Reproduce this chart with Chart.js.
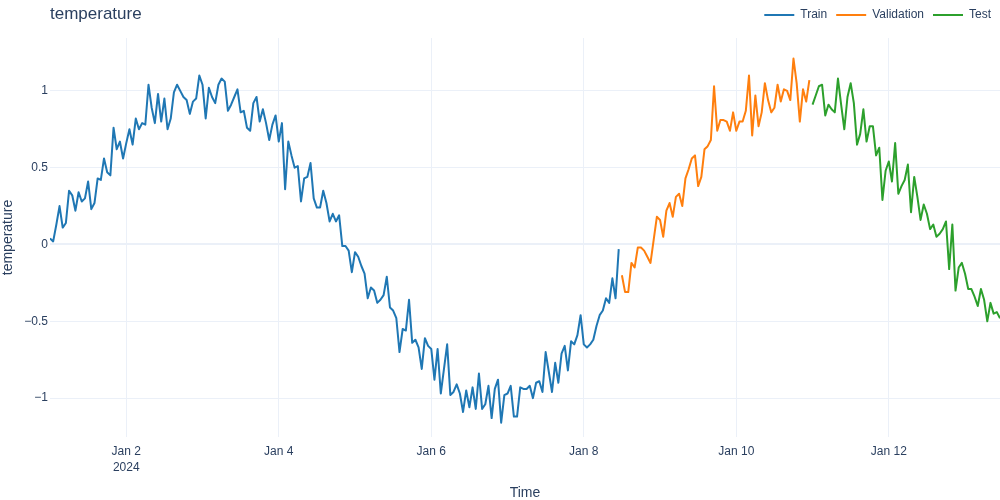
<!DOCTYPE html>
<html>
<head>
<meta charset="utf-8">
<title>temperature</title>
<script src="https://cdn.jsdelivr.net/npm/chart.js@4.4.1/dist/chart.umd.min.js"></script>
<style>
  html, body { margin: 0; padding: 0; background: #fff; }
  #wrap { width: 1000px; height: 500px; }
</style>
</head>
<body>
<div id="wrap"><canvas id="tempChart" width="1000" height="500"></canvas></div>
<script>
// hourly readings, hour 0 = Jan 1 2024 00:00
const trainStart = 0;
const validationStart = 180;
const testStart = 240;

const trainTemps = [
    0.04, 0.02, 0.13, 0.25, 0.11, 0.14, 0.35, 0.32, 0.22, 0.34,
    0.28, 0.30, 0.41, 0.23, 0.27, 0.43, 0.42, 0.56, 0.47, 0.45,
    0.76, 0.62, 0.67, 0.56, 0.66, 0.75, 0.65, 0.82, 0.75, 0.79,
    0.78, 1.04, 0.89, 0.79, 0.98, 0.80, 0.95, 0.75, 0.82, 0.99,
    1.04, 1.00, 0.96, 0.94, 0.85, 0.93, 0.95, 1.10, 1.04, 0.82,
    1.02, 0.96, 0.92, 1.04, 1.08, 1.06, 0.87, 0.91, 0.96, 1.01,
    0.86, 0.87, 0.76, 0.74, 0.92, 0.96, 0.80, 0.88, 0.79, 0.68,
    0.78, 0.84, 0.67, 0.79, 0.36, 0.67, 0.58, 0.50, 0.51, 0.28,
    0.43, 0.44, 0.53, 0.30, 0.24, 0.24, 0.35, 0.27, 0.15, 0.20,
    0.15, 0.19, -0.01, -0.01, -0.04, -0.18, -0.05, -0.08, -0.14, -0.19,
    -0.35, -0.28, -0.30, -0.38, -0.36, -0.33, -0.21, -0.41, -0.43, -0.48,
    -0.70, -0.55, -0.56, -0.36, -0.64, -0.62, -0.67, -0.81, -0.61, -0.66,
    -0.68, -0.88, -0.68, -0.97, -0.81, -0.65, -0.98, -0.96, -0.91, -0.97,
    -1.09, -0.95, -1.06, -0.93, -1.07, -0.84, -1.07, -1.04, -0.92, -1.13,
    -0.94, -0.88, -1.16, -0.98, -0.97, -0.92, -1.12, -1.12, -0.93, -0.94,
    -0.94, -0.92, -1.00, -0.90, -0.89, -0.96, -0.70, -0.83, -0.96, -0.77,
    -0.90, -0.71, -0.66, -0.82, -0.63, -0.65, -0.59, -0.46, -0.65, -0.67,
    -0.65, -0.62, -0.53, -0.46, -0.43, -0.35, -0.38, -0.22, -0.35, -0.03
];

const validationTemps = [
    -0.20, -0.31, -0.31, -0.12, -0.15, -0.02, -0.02, -0.04, -0.08, -0.12,
    0.03, 0.18, 0.16, 0.05, 0.22, 0.27, 0.18, 0.31, 0.33, 0.25,
    0.43, 0.49, 0.56, 0.58, 0.38, 0.44, 0.62, 0.64, 0.68, 1.03,
    0.74, 0.81, 0.81, 0.80, 0.74, 0.86, 0.74, 0.80, 0.80, 0.87,
    1.10, 0.71, 0.97, 0.77, 0.86, 1.05, 0.94, 0.86, 0.89, 1.04,
    0.93, 1.01, 1.00, 0.94, 1.21, 1.05, 0.80, 1.01, 0.93, 1.07
];

const testTemps = [
    0.91, 0.97, 1.03, 1.04, 0.84, 0.91, 0.88, 0.86, 1.08, 0.91,
    0.75, 0.96, 1.05, 0.92, 0.65, 0.72, 0.88, 0.67, 0.77, 0.77,
    0.58, 0.63, 0.29, 0.48, 0.54, 0.41, 0.66, 0.33, 0.38, 0.42,
    0.52, 0.21, 0.44, 0.31, 0.16, 0.26, 0.20, 0.10, 0.13, 0.05,
    0.07, 0.10, 0.15, -0.16, 0.13, -0.30, -0.15, -0.12, -0.19, -0.29,
    -0.29, -0.34, -0.40, -0.29, -0.36, -0.50, -0.38, -0.45, -0.44, -0.48
];

const xTickHours = [24, 72, 120, 168, 216, 264];
const xTickLabels = [['Jan 2', '2024'], 'Jan 4', 'Jan 6', 'Jan 8', 'Jan 10', 'Jan 12'];
const yTickValues = [-1, -0.5, 0, 0.5, 1];
const yTickLabels = ['\u22121', '\u22120.5', '0', '0.5', '1'];

const textColor = '#2a3f5f';
const gridColor = '#ebf0f8';
const fontFamily = '"Liberation Sans", Arial, sans-serif';

function toPoints(values, start) {
    return values.map((v, k) => ({ x: start + k, y: v }));
}

function lineSet(label, values, start, color) {
    return {
        label,
        data: toPoints(values, start),
        borderColor: color,
        backgroundColor: color,
        borderWidth: 2,
        borderJoinStyle: 'round',
        pointRadius: 0,
        pointHoverRadius: 0,
        tension: 0
    };
}

const ctx = document.getElementById('tempChart').getContext('2d');
const tempChart = new Chart(ctx, {
    type: 'line',
    data: {
        datasets: [
            lineSet('Train', trainTemps, trainStart, '#1f77b4'),
            lineSet('Validation', validationTemps, validationStart, '#ff7f0e'),
            lineSet('Test', testTemps, testStart, '#2ca02c')
        ]
    },
    options: {
        responsive: false,
        devicePixelRatio: 1,
        animation: false,
        layout: { padding: 0 },
        scales: {
            x: {
                type: 'linear',
                min: 0,
                max: 299,
                afterBuildTicks: scale => {
                    scale.ticks = xTickHours.map(h => ({ value: h }));
                },
                afterFit: scale => { scale.height = 63; },
                ticks: {
                    autoSkip: false,
                    maxRotation: 0,
                    padding: 7,
                    color: textColor,
                    font: { family: fontFamily, size: 12, lineHeight: 1.3 },
                    callback: (value, index) => xTickLabels[index]
                },
                grid: { color: gridColor, lineWidth: 1, drawTicks: false },
                border: { display: false },
                title: {
                    display: true,
                    text: 'Time',
                    color: textColor,
                    font: { family: fontFamily, size: 14 },
                    padding: { top: 0, bottom: -1.5 }
                }
            },
            y: {
                min: -1.253,
                max: 1.344,
                afterBuildTicks: scale => {
                    scale.ticks = yTickValues.map(v => ({ value: v }));
                },
                afterFit: scale => { scale.width = 50; },
                ticks: {
                    padding: 2,
                    color: textColor,
                    font: { family: fontFamily, size: 12 },
                    callback: (value, index) => yTickLabels[index]
                },
                grid: {
                    color: gridColor,
                    drawTicks: false,
                    lineWidth: c => (c.tick && c.tick.value === 0 ? 2 : 1)
                },
                border: { display: false },
                title: {
                    display: true,
                    text: 'temperature',
                    color: textColor,
                    font: { family: fontFamily, size: 14 },
                    padding: { top: 0, bottom: 0 }
                }
            }
        },
        plugins: {
            legend: {
                display: true,
                position: 'top',
                align: 'end',
                weight: 3000,
                labels: {
                    usePointStyle: true,
                    pointStyle: 'line',
                    pointStyleWidth: 30,
                    boxWidth: 30,
                    padding: 9,
                    color: textColor,
                    font: { family: fontFamily, size: 12 }
                }
            },
            title: {
                display: true,
                text: 'temperature',
                align: 'start',
                position: 'top',
                fullSize: false,
                weight: 2000,
                color: textColor,
                font: { family: fontFamily, size: 17, weight: 'normal' },
                padding: { top: -26.7, bottom: 13.3 }
            },
            tooltip: { enabled: false }
        }
    }
});
</script>
</body>
</html>
